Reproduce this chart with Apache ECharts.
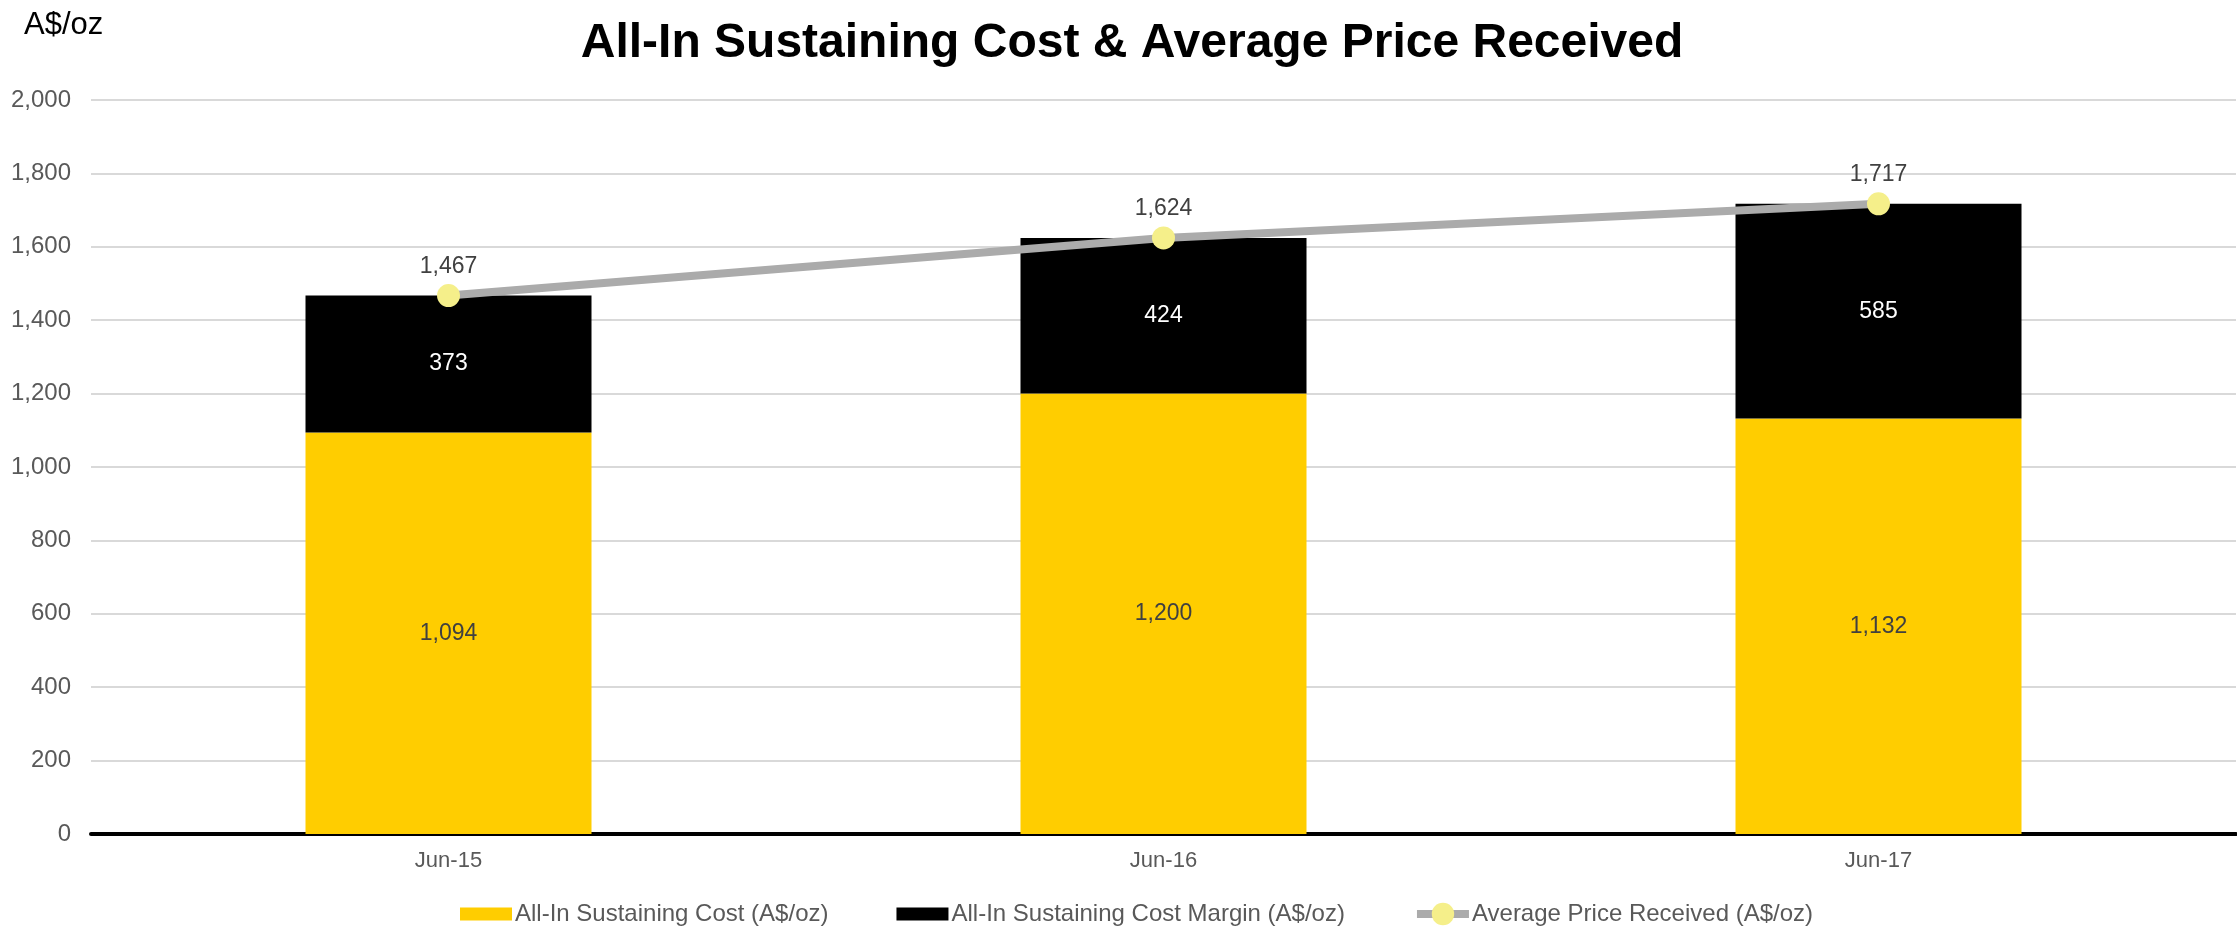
<!DOCTYPE html>
<html>
<head>
<meta charset="utf-8">
<script src="https://cdn.jsdelivr.net/npm/echarts@6/dist/echarts.min.js"></script>
<style>html,body{margin:0;padding:0;background:#fff;}#c{width:2237px;height:927px;}</style>
</head>
<body>
<div id="c"></div>
<script>
const categories = ['Jun-15', 'Jun-16', 'Jun-17'];
const aiscValues = [1094, 1200, 1132];
const marginValues = [373, 424, 585];
const priceValues = [1467, 1624, 1717];
const yTicks = { min: 0, max: 2000, interval: 200 };

const fmt = v => Number(v).toLocaleString('en-US');
const FONT = 'Liberation Sans, Arial, sans-serif';

const chart = echarts.init(document.getElementById('c'), null, { renderer: 'canvas' });
chart.setOption({
  backgroundColor: '#ffffff',
  animation: false,
  textStyle: { fontFamily: FONT },
  title: [
    { text: 'All-In Sustaining Cost & Average Price Received', left: 1127, top: 15, textAlign: 'center',
      textStyle: { fontSize: 48, fontWeight: 'bold', color: '#000000', fontFamily: FONT } },
    { text: 'A$/oz', left: 19, top: 5, textStyle: { fontSize: 31, fontWeight: 'normal', color: '#000000', fontFamily: FONT } }
  ],
  legend: {
    left: 455, top: 897,
    itemWidth: 52, itemHeight: 28, itemGap: 68,
    symbolKeepAspect: true,
    lineStyle: { width: 8 },
    textStyle: { fontSize: 24, color: '#595959', fontFamily: FONT, padding: [0, 0, 0, -2] },
    data: [
      { name: 'All-In Sustaining Cost (A$/oz)', icon: 'path://M0,0H52V13H0Z' },
      { name: 'All-In Sustaining Cost Margin (A$/oz)', icon: 'path://M0,0H52V13H0Z' },
      { name: 'Average Price Received (A$/oz)' }
    ]
  },
  grid: { left: 91, right: 1, top: 100, bottom: 93, containLabel: false },
  xAxis: {
    type: 'category', data: categories,
    axisLine: { lineStyle: { color: '#000000', width: 4 } },
    axisTick: { show: false },
    axisLabel: { fontSize: 22, color: '#595959', margin: 16, fontFamily: FONT }
  },
  yAxis: {
    type: 'value', min: yTicks.min, max: yTicks.max, interval: yTicks.interval,
    axisLine: { show: false }, axisTick: { show: false },
    splitLine: { lineStyle: { color: '#D9D9D9', width: 2 } },
    axisLabel: { fontSize: 24, color: '#595959', margin: 20, formatter: v => fmt(v), fontFamily: FONT }
  },
  series: [
    { name: 'All-In Sustaining Cost (A$/oz)', type: 'bar', stack: 's', data: aiscValues, barWidth: '40%',
      itemStyle: { color: '#FFCD00' },
      label: { show: true, position: 'inside', fontSize: 23, color: '#404040', formatter: p => fmt(p.value), fontFamily: FONT } },
    { name: 'All-In Sustaining Cost Margin (A$/oz)', type: 'bar', stack: 's', data: marginValues, barWidth: '40%',
      itemStyle: { color: '#000000' },
      label: { show: true, position: 'inside', fontSize: 23, color: '#FFFFFF', formatter: p => fmt(p.value), fontFamily: FONT } },
    { name: 'Average Price Received (A$/oz)', type: 'line', data: priceValues, z: 5,
      symbol: 'circle', symbolSize: 23,
      lineStyle: { color: '#ABABAB', width: 8 },
      itemStyle: { color: '#F5EF8A' },
      label: { show: true, position: 'top', distance: 6, fontSize: 23, color: '#404040', formatter: p => fmt(p.value), fontFamily: FONT } }
  ]
});
</script>
</body>
</html>
